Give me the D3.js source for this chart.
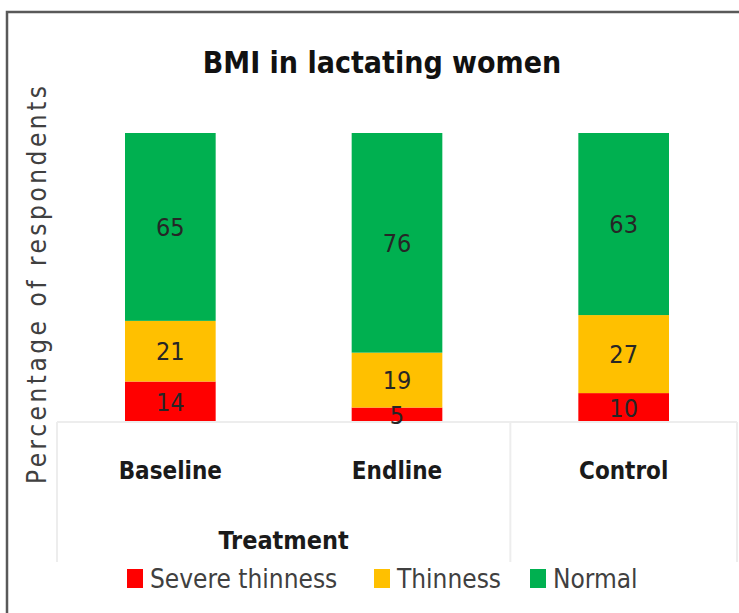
<!DOCTYPE html>
<html>
<head>
<meta charset="utf-8">
<script src="https://cdn.jsdelivr.net/npm/d3@7"></script>
<style>
  body { margin: 0; background: #fff; }
  svg text { font-family: "Liberation Sans Narrow", "DejaVu Sans Condensed", "Open Sans", sans-serif; }
</style>
</head>
<body>
<div class="chart"></div>
<script>
// data
const categories = ["Baseline", "Endline", "Control"];
const groupLabels = ["Treatment", "Treatment", ""];
const seriesNames = ["Severe thinness", "Thinness", "Normal"];
const severeThinness = [14, 5, 10];
const thinness = [21, 19, 27];
const normal = [65, 76, 63];

const colors = ["#FF0000", "#FFC000", "#00B050"];

const width = 739, height = 613;

const rows = categories.map((c, i) => ({
    category: c,
    group: groupLabels[i],
    "Severe thinness": severeThinness[i],
    "Thinness": thinness[i],
    "Normal": normal[i]
}));

const svg = d3.select(".chart")
    .append("svg")
    .attr("width", width)
    .attr("height", height);

// outer frame (only top and left edges show)
svg.append("path")
    .attr("d", "M7,613 V12 H739")
    .attr("fill", "none")
    .attr("stroke", "#595959")
    .attr("stroke-width", 2.5);

// Title
svg.append("text")
    .attr("x", 382)
    .attr("y", 73)
    .attr("text-anchor", "middle")
    .attr("font-size", 30)
    .attr("font-weight", "bold")
    .attr("fill", "#111")
    .text("BMI in lactating women");

// Scales
const scaleX = d3.scaleBand()
    .domain(categories)
    .range([57, 737])
    .paddingInner(0.6)
    .paddingOuter(0.3);

const scaleY = d3.scaleLinear()
    .domain([0, 100])
    .range([422, 133]);

const color = d3.scaleOrdinal(seriesNames, colors);

const stacked = d3.stack().keys(seriesNames)(rows);

// Bars
const layer = svg.selectAll(".layer")
    .data(stacked)
    .enter().append("g")
    .attr("class", "layer")
    .attr("fill", (d) => color(d.key));

layer.selectAll("rect")
    .data((d) => d)
    .enter().append("rect")
    .attr("x", (d) => scaleX(d.data.category))
    .attr("width", scaleX.bandwidth())
    .attr("y", (d) => scaleY(d[1]))
    .attr("height", (d) => scaleY(d[0]) - scaleY(d[1]));

// Multi-level category axis box
const axisTop = scaleY(0), axisBottom = 562;
const step = scaleX.step();
const x0 = scaleX.range()[0], x1 = scaleX.range()[1];
const groupEdges = [x0];
categories.forEach((c, i) => {
    if (i > 0 && groupLabels[i] !== groupLabels[i - 1]) groupEdges.push(x0 + step * i);
});
groupEdges.push(x1);

const axis = svg.append("g")
    .attr("stroke", "#EDEDED")
    .attr("stroke-width", 2);

axis.append("line")
    .attr("x1", x0).attr("x2", x1)
    .attr("y1", axisTop).attr("y2", axisTop);

axis.selectAll(".edge")
    .data(groupEdges)
    .enter().append("line")
    .attr("x1", (d) => d).attr("x2", (d) => d)
    .attr("y1", axisTop).attr("y2", axisBottom);

// Data labels
stacked.forEach((s) => {
    svg.append("g").selectAll("text")
        .data(s)
        .enter().append("text")
        .attr("x", (d) => scaleX(d.data.category) + scaleX.bandwidth() / 2)
        .attr("y", (d) => (scaleY(d[0]) + scaleY(d[1])) / 2 + 9)
        .attr("text-anchor", "middle")
        .attr("font-size", 25)
        .attr("fill", "#262626")
        .text((d) => d.data[s.key]);
});

// Category labels
svg.append("g").selectAll("text")
    .data(categories)
    .enter().append("text")
    .attr("x", (d) => scaleX(d) + scaleX.bandwidth() / 2)
    .attr("y", 479)
    .attr("text-anchor", "middle")
    .attr("font-size", 24)
    .attr("font-weight", "bold")
    .attr("fill", "#1a1a1a")
    .text((d) => d);

// Group labels
const groups = [];
groupLabels.forEach((g, i) => {
    if (i === 0 || g !== groupLabels[i - 1]) groups.push({ label: g, first: i, last: i });
    else groups[groups.length - 1].last = i;
});

svg.append("g").selectAll("text")
    .data(groups.filter((g) => g.label))
    .enter().append("text")
    .attr("x", (d) => x0 + step * (d.first + d.last + 1) / 2)
    .attr("y", 549)
    .attr("text-anchor", "middle")
    .attr("font-size", 25)
    .attr("font-weight", "bold")
    .attr("fill", "#1a1a1a")
    .text((d) => d.label);

// Y axis title
svg.append("text")
    .attr("transform", "translate(46,285) rotate(-90)")
    .attr("text-anchor", "middle")
    .attr("font-size", 26)
    .attr("textLength", 398)
    .attr("lengthAdjust", "spacing")
    .attr("fill", "#404040")
    .text("Percentage of respondents");

// Legend
const legendX = [127, 374, 530];
const legend = svg.append("g").selectAll("g")
    .data(seriesNames)
    .enter().append("g")
    .attr("transform", (d, i) => "translate(" + legendX[i] + ",569)");

legend.append("rect")
    .attr("width", 16)
    .attr("height", 19)
    .attr("fill", (d) => color(d));

legend.append("text")
    .attr("x", 23)
    .attr("y", 19)
    .attr("font-size", 26)
    .attr("fill", "#404040")
    .text((d) => d);
</script>
</body>
</html>
